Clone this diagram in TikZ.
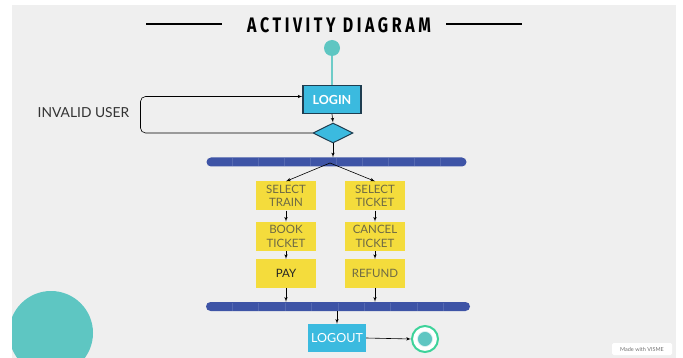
\documentclass[tikz,border=0pt]{standalone}
\usepackage{fontspec}
\setmainfont{Lato}
\newfontfamily\titlefont[FakeStretch=0.76,LetterSpace=17]{Fira Sans}
\usepackage{xcolor}
\definecolor{BGCOLOR}{HTML}{EFEFEF}
\definecolor{TEALCOLOR}{HTML}{5EC6C2}
\definecolor{ACTCOLOR}{HTML}{3BBADF}
\definecolor{EDGECOLOR}{HTML}{1E3D50}
\definecolor{STEPCOLOR}{HTML}{F4DC3C}
\definecolor{STEPTEXT}{HTML}{6E6A45}
\definecolor{BARCOLOR}{HTML}{3E54A6}
\definecolor{RINGCOLOR}{HTML}{3DD39A}
\usetikzlibrary{shapes,arrows,positioning,calc}
\tikzset{
  basic-style/.style = {
    rectangle, fill=#1,
    minimum width=58pt,
    minimum height=28pt,
    inner sep=1pt, align=center
  },
  act-style/.style = {
    basic-style=ACTCOLOR, text=white,
    font=\fontsize{12.5}{13}\selectfont\bfseries
  },
  step-style/.style = {
    basic-style=STEPCOLOR, text=STEPTEXT,
    minimum width=60pt, minimum height=29pt,
    font=\fontsize{11.5}{13.3}\selectfont
  },
  bar-style/.style = {
    rectangle, rounded corners=4.5pt, fill=BARCOLOR,
    minimum height=9pt, inner sep=0pt
  },
  dot-style/.style = {
    circle, fill=TEALCOLOR, minimum size=#1, inner sep=0pt
  },
  every edge/.style = {draw, ->, >=latex', semithick}
}

\begin{document}
\begin{tikzpicture}[x=1pt,y=-1pt]
    \useasboundingbox (0,0) rectangle (683,358);
    \fill[white] (0,0) rectangle (683,358);
    \fill[BGCOLOR] (12,5) rectangle (676,358);
    % corner blob
    \begin{scope}
      \clip (12,5) rectangle (676,358);
      \fill[TEALCOLOR] (51,333) circle (42);
    \end{scope}

    %%% title
    \node (title) at (339,25) {\titlefont\bfseries\fontsize{21}{21}\selectfont ACTIVITY DIAGRAM};
    \draw[line width=2pt] (146,24) -- (222,24);
    \draw[line width=2pt] (446,24) -- (522,24);

    %%% login and check
    \node[dot-style=16pt] (start) at (332,48) {};
    \node[act-style,draw=EDGECOLOR,line width=1.2pt] (login) at (332,99.5) {LOGIN};
    \node[diamond,fill=ACTCOLOR,draw=EDGECOLOR,line width=1pt,minimum width=40pt,minimum height=20pt,inner sep=0pt] (check) at (333,133) {};
    \node[text=black!80,font=\fontsize{13.8}{14}\selectfont] (invalid) at (83.5,113) {INVALID USER};

    %%% fork bar
    \node[bar-style,minimum width=260pt] (fork) at (336.5,162) {};
    \coordinate (split) at (330,163);

    %%% booking column
    \node[step-style] (selTrain) at (286,196) {SELECT\\TRAIN};
    \node[step-style,below=11pt of selTrain] (bookTicket) {BOOK\\TICKET};
    \node[step-style,below=8pt of bookTicket,text=black!85] (pay) {PAY};

    %%% cancel column
    \node[step-style] (selTicket) at (375,196) {SELECT\\TICKET};
    \node[step-style,below=11pt of selTicket] (cancelTicket) {CANCEL\\TICKET};
    \node[step-style,below=8pt of cancelTicket] (refund) {REFUND};

    %%% join bar
    \node[bar-style,minimum width=264pt] (join) at (338,306.5) {};

    % faint seams on both bars
    \foreach \i in {1,...,9} {
      \draw[BARCOLOR!88!white,line width=0.3pt] ($(fork.west)+(\i*26,-4)$) -- ++(0,8);
      \draw[BARCOLOR!88!white,line width=0.3pt] ($(join.west)+(\i*26.4,-4)$) -- ++(0,8);
    }

    %%% logout and end
    \node[act-style,font=\fontsize{12.5}{13}\selectfont] (logout) at (337,338) {LOGOUT};
    \node[circle,draw=RINGCOLOR,line width=2pt,fill=white,minimum size=26pt,inner sep=0pt] (finish) at (425,339) {};
    \node[dot-style=15pt,draw=white!80!TEALCOLOR,line width=0.6pt] (finishDot) at (finish) {};

    %%% arrows
    \draw[TEALCOLOR!90!white,line width=2pt] (start) -- (login.north);
    \path[->] (login.south) edge (check.north);
    \path[->] (check.south) edge (check.south |- fork.north);
    \draw[semithick,rounded corners=5pt,->,>=latex'] (check.west) -- ++(-172,0) |- ([yshift=3pt]login.west);
    \path[->] (split) edge (selTrain.north);
    \path[->] (split) edge (selTicket.north);
    \path[->] (selTrain.south) edge (bookTicket.north);
    \path[->] (bookTicket.south) edge (pay.north);
    \path[->] (selTicket.south) edge (cancelTicket.north);
    \path[->] (cancelTicket.south) edge (refund.north);
    \path[->] (pay.south) edge (pay.south |- join.north);
    \path[->] (refund.south) edge (refund.south |- join.north);
    \path[->] (join.south -| logout.north) edge (logout.north);
    \path[->] (logout.east) edge (finish.west);

    %%% badge
    \node[fill=white,rounded corners=1.5pt,text=black!55,font=\fontsize{5.5}{6}\selectfont,minimum width=60pt,minimum height=12pt,inner sep=1pt] (badge) at (642,349) {Made with VISME};
  \end{tikzpicture}
\end{document}
